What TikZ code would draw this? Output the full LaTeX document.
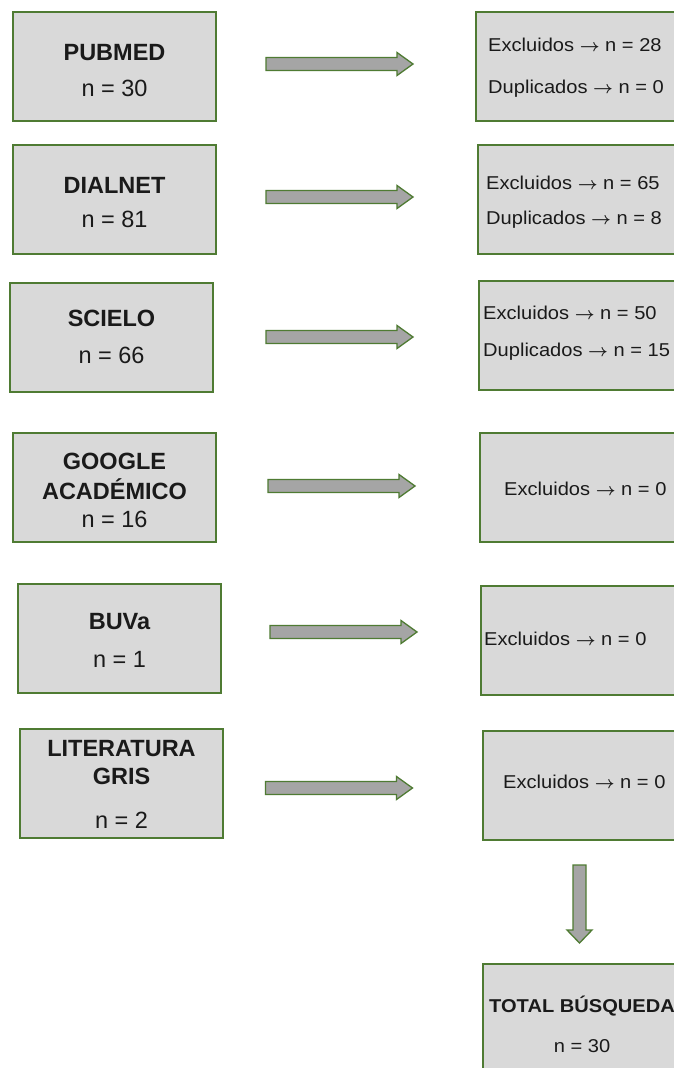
\documentclass[tikz,border=0pt]{standalone}
\usepackage{fontspec}
\usepackage{amsmath}
\setmainfont{Liberation Sans}
\newfontfamily\rfont[FakeStretch=1.08]{Liberation Sans}
\definecolor{boxfill}{HTML}{D9D9D9}
\definecolor{boxline}{HTML}{4F7B33}
\definecolor{arrfill}{HTML}{A5A5A5}
\definecolor{txt}{HTML}{1A1A1A}
\tikzset{
  pbox/.style={draw=boxline, line width=1.7pt, fill=boxfill, inner sep=0pt, outer sep=0pt,
    minimum width=203pt, minimum height=109pt, anchor=north west},
  rbox/.style={pbox, minimum width=220pt},
  blockarrow/.style={draw=boxline, line width=1.3pt, fill=arrfill, line join=miter},
  ltitle/.style={anchor=base, inner sep=0pt, text=txt, font=\fontsize{23.5}{26}\selectfont\bfseries},
  lnum/.style={anchor=base, inner sep=0pt, text=txt, font=\fontsize{23.5}{26}\selectfont},
  rtext/.style={anchor=base west, inner sep=0pt, text=txt, font=\rfont\fontsize{18.6}{22}\selectfont},
  rtitle/.style={anchor=base, inner sep=0pt, text=txt, font=\rfont\fontsize{18.6}{22}\selectfont\bfseries},
  rnum/.style={anchor=base, inner sep=0pt, text=txt, font=\rfont\fontsize{18.6}{22}\selectfont},
}
\newcommand{\myarr}{$\boldsymbol{\rightarrow}$}
% horizontal block arrow: name, centre of its length (x,y)
\newcommand{\harr}[2]{%
  \coordinate (#1) at (#2);
  \draw[blockarrow] ([shift={(-73.5,-6.5)}]#1) -- ([shift={(57.5,-6.5)}]#1)
    -- ([shift={(57.5,-11.5)}]#1) -- ([shift={(73.5,0)}]#1)
    -- ([shift={(57.5,11.5)}]#1) -- ([shift={(57.5,6.5)}]#1)
    -- ([shift={(-73.5,6.5)}]#1) -- cycle;}
\begin{document}
\begin{tikzpicture}[x=1pt,y=-1pt]
\useasboundingbox (0,0) rectangle (673,1068);
\fill[white] (0,0) rectangle (673,1068);
% left boxes
\node[pbox] (L1) at (13,12) {};
\node[pbox] (L2) at (13,145) {};
\node[pbox] (L3) at (10,283) {};
\node[pbox] (L4) at (13,433) {};
\node[pbox] (L5) at (18,584) {};
\node[pbox] (L6) at (20,729) {};
% right boxes
\node[rbox] (R1) at (476,12) {};
\node[rbox] (R2) at (478,145) {};
\node[rbox] (R3) at (479,281) {};
\node[rbox] (R4) at (480,433) {};
\node[rbox] (R5) at (481,586) {};
\node[rbox] (R6) at (483,731) {};
\node[rbox, minimum height=150pt] (T) at (483,964) {};
% horizontal arrows
\harr{A1}{339.5,64}
\harr{A2}{339.5,197}
\harr{A3}{339.5,337}
\harr{A4}{341.5,486}
\harr{A5}{343.5,632}
\harr{A6}{339,788}
% vertical arrow
\coordinate (A7) at (579.5,865);
\draw[blockarrow] ([shift={(-6.5,0)}]A7) -- ([shift={(6.5,0)}]A7)
  -- ([shift={(6.5,65)}]A7) -- ([shift={(12.5,65)}]A7) -- ([shift={(0,78)}]A7)
  -- ([shift={(-12.5,65)}]A7) -- ([shift={(-6.5,65)}]A7) -- cycle;
% left texts
\node[ltitle] (l1a) at (114.5,60.4) {PUBMED};
\node[lnum]   (l1b) at (114.5,96.4) {n = 30};
\node[ltitle] (l2a) at (114.5,193.4) {DIALNET};
\node[lnum]   (l2b) at (114.5,227.4) {n = 81};
\node[ltitle] (l3a) at (111.5,326.4) {SCIELO};
\node[lnum]   (l3b) at (111.5,363.4) {n = 66};
\node[ltitle] (l4a) at (114.5,469) {GOOGLE};
\node[ltitle] (l4b) at (114.5,499) {ACADÉMICO};
\node[lnum]   (l4c) at (114.5,527) {n = 16};
\node[ltitle] (l5a) at (119.5,629.4) {BUVa};
\node[lnum]   (l5b) at (119.5,667.4) {n = 1};
\node[ltitle] (l6a) at (121.5,756.4) {LITERATURA};
\node[ltitle] (l6b) at (121.5,784.4) {GRIS};
\node[lnum]   (l6c) at (121.5,828.4) {n = 2};
% right texts
\node[rtext] (r1a) at (488,51) {Excluidos \myarr{} n = 28};
\node[rtext] (r1b) at (488,93) {Duplicados \myarr{} n = 0};
\node[rtext] (r2a) at (486,189.7) {Excluidos \myarr{} n = 65};
\node[rtext] (r2b) at (486,224.7) {Duplicados \myarr{} n = 8};
\node[rtext] (r3a) at (483,319.7) {Excluidos \myarr{} n = 50};
\node[rtext] (r3b) at (483,356.7) {Duplicados \myarr{} n = 15};
\node[rtext] (r4a) at (504,495.7) {Excluidos \myarr{} n = 0};
\node[rtext] (r5a) at (484,645.7) {Excluidos \myarr{} n = 0};
\node[rtext] (r6a) at (503,788.7) {Excluidos \myarr{} n = 0};
\node[rtitle] (t1) at (582,1012) {TOTAL BÚSQUEDA};
\node[rnum]   (t2) at (582,1052) {n = 30};
\end{tikzpicture}
\end{document}
